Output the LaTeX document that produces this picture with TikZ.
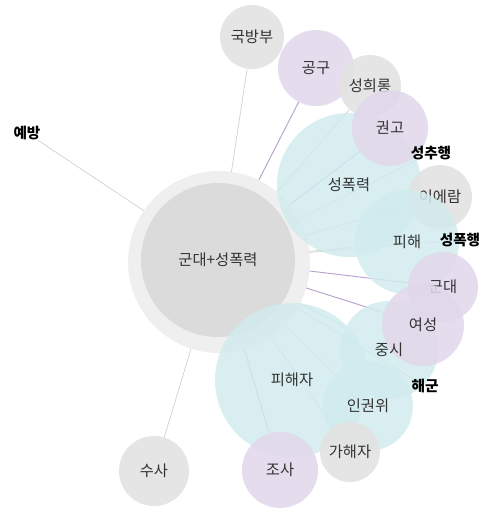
\documentclass[tikz,border=0pt]{standalone}
\usepackage{fontspec}
\setmainfont{Noto Sans CJK KR}
\usetikzlibrary{backgrounds}
\definecolor{halo}{HTML}{EFEFEF}
\definecolor{core}{HTML}{DBDBDB}
\definecolor{gnode}{HTML}{E3E3E3}
\definecolor{pnode}{HTML}{E1D7EB}
\definecolor{cnode}{HTML}{D1EBEE}
\definecolor{gedge}{HTML}{D0D0D0}
\definecolor{pedge}{HTML}{B7A2CD}
\definecolor{txt}{HTML}{333333}
\begin{document}
\begin{tikzpicture}[x=0.75pt,y=-0.75pt,
  bub/.style={circle, minimum size=#1*1.5pt, inner sep=0pt, text=txt, font=\fontsize{11.5}{13}\selectfont},
  gb/.style={bub=#1, fill=gnode, fill opacity=0.93, text opacity=1},
  pb/.style={bub=#1, fill=pnode, fill opacity=0.88, text opacity=1},
  cb/.style={bub=#1, fill=cnode, fill opacity=0.85, text opacity=1},
  cbl/.style={text=txt, font=\fontsize{11.5}{13}\selectfont},
  lbl/.style={inner sep=0pt, text=black, font=\fontsize{11}{13}\selectfont\bfseries},
  ge/.style={draw=gedge, line width=0.5pt},
  pe/.style={draw=pedge, line width=0.7pt}]
\useasboundingbox (0,0) rectangle (483,508);
% central
\node[circle, fill=halo, minimum size=91*1.5pt, inner sep=0pt] (halo) at (219,262) {};
\node[bub=77, fill=core] (c) at (218,260) {군대+성폭력};
% nodes
\node[lbl] (yebang) at (27,133) {예방};
\node[gb=32] (gukbang) at (252,37) {국방부};
\node[pb=38] (gonggu) at (316,68) {공구};
\node[gb=31] (seonghui) at (370,86) {성희롱};
\node[cb=72] (seongpok) at (349,185) {};
\node[pb=38] (gwongo) at (390,128) {권고};
\node[lbl] (seongchu) at (431,153) {성추행};
\node[gb=32] (iearam) at (440,197) {이에람};
\node[cb=52] (pihae) at (407,242) {};
\node[lbl] (seongpokhaeng) at (460,240) {성폭행};
\node[cb=49] (jungsi) at (389,350) {};
\node[pb=35] (gundae) at (443,287) {군대};
\node[pb=41] (yeoseong) at (423,325) {여성};
\node[lbl] (haegun) at (425,386) {해군};
\node[cb=77] (pihaeja) at (292,380) {};
\node[cb=45] (ingwon) at (368,406) {};
\node[gb=30] (gahaeja) at (350,452) {가해자};
\node[pb=38] (josa) at (280,470) {조사};
\node[gb=35] (susa) at (154,471) {수사};
% labels of cyan bubbles
\node[cbl] at (seongpok) {성폭력};
\node[cbl] at (pihae) {피해};
\node[cbl] at (jungsi) {중시};
\node[cbl] at (pihaeja) {피해자};
\node[cbl] at (ingwon) {인권위};
% edges
\begin{pgfonlayer}{background}
\draw[ge] (c.center) -- (yebang);
\draw[ge] (c.center) -- (gukbang);
\draw[pe] (c.center) -- (gonggu);
\draw[ge] (c.center) -- (seonghui);
\draw[ge] (c.center) -- (seongpok);
\draw[pe] (c.center) -- (gwongo);
\draw[ge] (c.center) -- (seongchu);
\draw[ge] (c.center) -- (iearam);
\draw[ge] (c.center) -- (pihae);
\draw[ge] (c.center) -- (seongpokhaeng);
\draw[pe] (c.center) -- (gundae);
\draw[pe] (c.center) -- (yeoseong);
\draw[ge] (c.center) -- (jungsi);
\draw[ge] (c.center) -- (haegun);
\draw[ge] (c.center) -- (pihaeja);
\draw[ge] (c.center) -- (ingwon);
\draw[ge] (c.center) -- (gahaeja);
\draw[pe] (c.center) -- (josa);
\draw[ge] (c.center) -- (susa);
\end{pgfonlayer}
\end{tikzpicture}
\end{document}
